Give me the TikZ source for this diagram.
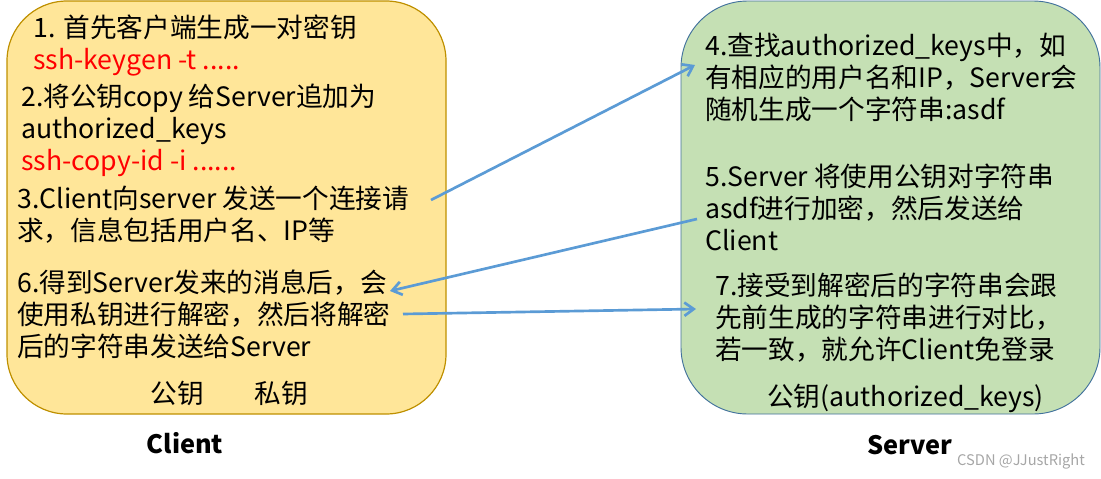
\documentclass[tikz,border=0pt]{standalone}
\usepackage{fontspec}
\setmainfont{Noto Sans CJK SC}
\usepackage{tikz}
\usepackage{xcolor}
\usetikzlibrary{arrows.meta,positioning}
\definecolor{clientfill}{HTML}{FFE699}
\definecolor{clientline}{HTML}{BF9000}
\definecolor{serverfill}{HTML}{C5E0B4}
\definecolor{serverline}{HTML}{41719C}
\definecolor{flowblue}{HTML}{5B9BD5}
\definecolor{cmdred}{HTML}{FF0000}
\definecolor{markgray}{HTML}{A6A6A6}
\tikzset{
  clientbox/.style={draw=clientline,fill=clientfill,line width=0.9pt,
                    rounded corners=45pt,minimum width=329.25pt,
                    minimum height=309.75pt,inner sep=0pt},
  serverbox/.style={draw=serverline,fill=serverfill,line width=0.7pt,
                    rounded corners=50pt,minimum width=314.25pt,
                    minimum height=309.75pt,inner sep=0pt},
  steptext/.style={anchor=west,align=left,inner sep=0pt,
                   font=\fontsize{20}{24}\selectfont},
  keytext/.style={inner sep=0pt,font=\fontsize{20}{24}\selectfont},
  sidelabel/.style={inner sep=0pt,font=\fontsize{19}{22}\selectfont\bfseries},
  flowarr/.style={-{Straight Barb[length=7pt,width=10pt]},line width=2pt,
                  draw=flowblue}
}

\begin{document}
\begin{tikzpicture}[x=0.75pt,y=-0.75pt]
    \path[use as bounding box] (0,0) rectangle (1101,479);

    % the two parties
    \node[clientbox] (client) at (226.5,207.5) {};
    \node[serverbox] (server) at (890.5,207.5) {};

    % client side
    \node[steptext] (step1) at (33,45)
      {1. 首先客户端生成一对密钥\\
       \textcolor{cmdred}{ssh-keygen -t .....}};
    \node[steptext] (step2) at (21,130)
      {2.将公钥copy 给Server追加为\\
       authorized\_keys\\
       \textcolor{cmdred}{ssh-copy-id -i ......}};
    \node[steptext] (step3) at (17,214.5)
      {3.Client向server 发送一个连接请\\
       求，信息包括用户名、IP等};
    \node[steptext] (step6) at (17,314)
      {6.得到Server发来的消息后，会\\
       使用私钥进行解密，然后将解密\\
       后的字符串发送给Server};
    \node[keytext] (pubkey) at (177.5,393) {公钥};
    \node[keytext] (privkey) at (281,393) {私钥};
    \node[sidelabel] (clientname) at (185,443) {Client};

    % server side
    \node[steptext] (step4) at (705,77)
      {4.查找authorized\_keys中，如\\
       有相应的用户名和IP，Server会\\
       随机生成一个字符串:asdf};
    \node[steptext] (step5) at (705,207)
      {5.Server 将使用公钥对字符串\\
       asdf进行加密，然后发送给\\
       Client};
    \node[steptext] (step7) at (715,318)
      {7.接受到解密后的字符串会跟\\
       先前生成的字符串进行对比，\\
       若一致，就允许Client免登录};
    \node[keytext,anchor=west] (authkeys) at (767,398)
      {公钥(authorized\_keys)};
    \node[sidelabel] (servername) at (910,445) {Server};
    \node[inner sep=0pt,font=\fontsize{11}{13}\selectfont,text=markgray]
      (mark) at (1021,461) {CSDN @JJustRight};

    % message flow
    \coordinate (reqout) at (431,200);
    \coordinate (reqin) at (695,65);
    \coordinate (encout) at (697,219);
    \coordinate (encin) at (390,291);
    \coordinate (decout) at (403,314);
    \coordinate (decin) at (696,309);
    \draw[flowarr] (reqout) -- (reqin);
    \draw[flowarr] (encout) -- (encin);
    \draw[flowarr] (decout) -- (decin);
  \end{tikzpicture}
\end{document}
